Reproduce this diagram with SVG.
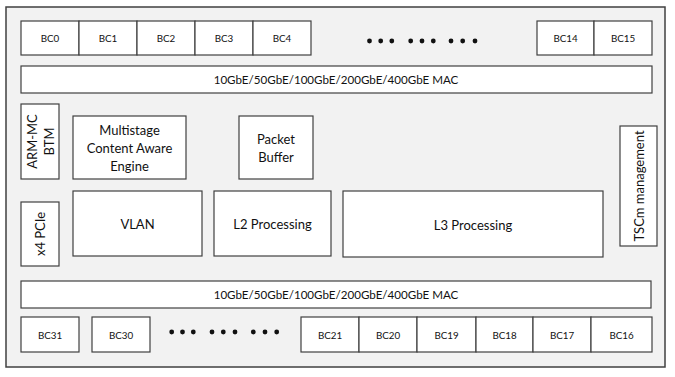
<svg xmlns="http://www.w3.org/2000/svg" width="675" height="377" viewBox="0 0 675 377">
<style>
.b{fill:#fff;stroke:#404040;stroke-width:1.2}
.t{font-family:Lato,"Open Sans",sans-serif;fill:#111;text-anchor:middle;dominant-baseline:central}
.s{font-size:9.8px}
.m{font-size:11.6px}
.l{font-size:13px}
.d{fill:#111}
</style>
<rect x="0" y="0" width="675" height="377" fill="#fff"/>
<rect id="chip" x="6" y="7" width="659" height="360" fill="#f2f2f2" stroke="#404040" stroke-width="1.5"/>
<g id="bc-top">
<g id="bc0"><rect class="b" x="21" y="21" width="58" height="34"/><text class="t s" x="50" y="38">BC0</text></g>
<g id="bc1"><rect class="b" x="79" y="21" width="58" height="34"/><text class="t s" x="108" y="38">BC1</text></g>
<g id="bc2"><rect class="b" x="137" y="21" width="58" height="34"/><text class="t s" x="166" y="38">BC2</text></g>
<g id="bc3"><rect class="b" x="195" y="21" width="58" height="34"/><text class="t s" x="224" y="38">BC3</text></g>
<g id="bc4"><rect class="b" x="253" y="21" width="58" height="34"/><text class="t s" x="282" y="38">BC4</text></g>
<g id="bc14"><rect class="b" x="537" y="21" width="57" height="34"/><text class="t s" x="565.5" y="38">BC14</text></g>
<g id="bc15"><rect class="b" x="594" y="21" width="58" height="34"/><text class="t s" x="623" y="38">BC15</text></g>
</g>
<g id="dots-top" class="d">
<circle cx="369.5" cy="41" r="2.4"/><circle cx="380.7" cy="41" r="2.4"/><circle cx="391.8" cy="41" r="2.4"/>
<circle cx="410.7" cy="41" r="2.4"/><circle cx="422" cy="41" r="2.4"/><circle cx="433.3" cy="41" r="2.4"/>
<circle cx="451" cy="41" r="2.4"/><circle cx="462.7" cy="41" r="2.4"/><circle cx="475" cy="41" r="2.4"/>
</g>
<g id="mac-top"><rect class="b" x="21" y="66" width="631" height="27"/><text class="t m" x="336" y="79.5">10GbE/50GbE/100GbE/200GbE/400GbE MAC</text></g>
<g id="arm"><rect class="b" x="21" y="104" width="38" height="75"/><text class="t l" transform="translate(40 141.5) rotate(-90)"><tspan x="0" y="-8.5">ARM-MC</tspan><tspan x="0" y="8.5">BTM</tspan></text></g>
<g id="multistage"><rect class="b" x="73" y="116" width="113" height="63"/><text class="t l" x="129.5" y="130">Multistage</text><text class="t l" x="129.5" y="148">Content Aware</text><text class="t l" x="129.5" y="166">Engine</text></g>
<g id="packet"><rect class="b" x="239" y="116" width="74" height="63"/><text class="t l" x="276" y="139">Packet</text><text class="t l" x="276" y="157">Buffer</text></g>
<g id="pcie"><rect class="b" x="21" y="202" width="38" height="64"/><text class="t l" transform="translate(40 234) rotate(-90)">x4 PCIe</text></g>
<g id="vlan"><rect class="b" x="73" y="191" width="129" height="65"/><text class="t l" x="137.5" y="224">VLAN</text></g>
<g id="l2"><rect class="b" x="214" y="191" width="117" height="65"/><text class="t l" x="272.5" y="224">L2 Processing</text></g>
<g id="l3"><rect class="b" x="343" y="191" width="260" height="66"/><text class="t l" x="473" y="225">L3 Processing</text></g>
<g id="tscm"><rect class="b" x="620" y="126" width="37" height="120"/><text class="t l" transform="translate(639 186) rotate(-90)">TSCm management</text></g>
<g id="mac-bottom"><rect class="b" x="21" y="281" width="630" height="27"/><text class="t m" x="336" y="294.5">10GbE/50GbE/100GbE/200GbE/400GbE MAC</text></g>
<g id="bc-bottom">
<g id="bc31"><rect class="b" x="21" y="317" width="58" height="35"/><text class="t s" x="50" y="334.5">BC31</text></g>
<g id="bc30"><rect class="b" x="92" y="317" width="58" height="35"/><text class="t s" x="121" y="334.5">BC30</text></g>
<g id="bc21"><rect class="b" x="301" y="317" width="58" height="35"/><text class="t s" x="330" y="334.5">BC21</text></g>
<g id="bc20"><rect class="b" x="359" y="317" width="58" height="35"/><text class="t s" x="388" y="334.5">BC20</text></g>
<g id="bc19"><rect class="b" x="417" y="317" width="59" height="35"/><text class="t s" x="446.5" y="334.5">BC19</text></g>
<g id="bc18"><rect class="b" x="476" y="317" width="57" height="35"/><text class="t s" x="504.5" y="334.5">BC18</text></g>
<g id="bc17"><rect class="b" x="533" y="317" width="58" height="35"/><text class="t s" x="562" y="334.5">BC17</text></g>
<g id="bc16"><rect class="b" x="591" y="317" width="61" height="35"/><text class="t s" x="621.5" y="334.5">BC16</text></g>
</g>
<g id="dots-bottom" class="d">
<circle cx="171.7" cy="332" r="2.4"/><circle cx="182.5" cy="332" r="2.4"/><circle cx="193.3" cy="332" r="2.4"/>
<circle cx="212" cy="332" r="2.4"/><circle cx="223.3" cy="332" r="2.4"/><circle cx="235" cy="332" r="2.4"/>
<circle cx="253.3" cy="332" r="2.4"/><circle cx="265" cy="332" r="2.4"/><circle cx="276.7" cy="332" r="2.4"/>
</g>
</svg>
